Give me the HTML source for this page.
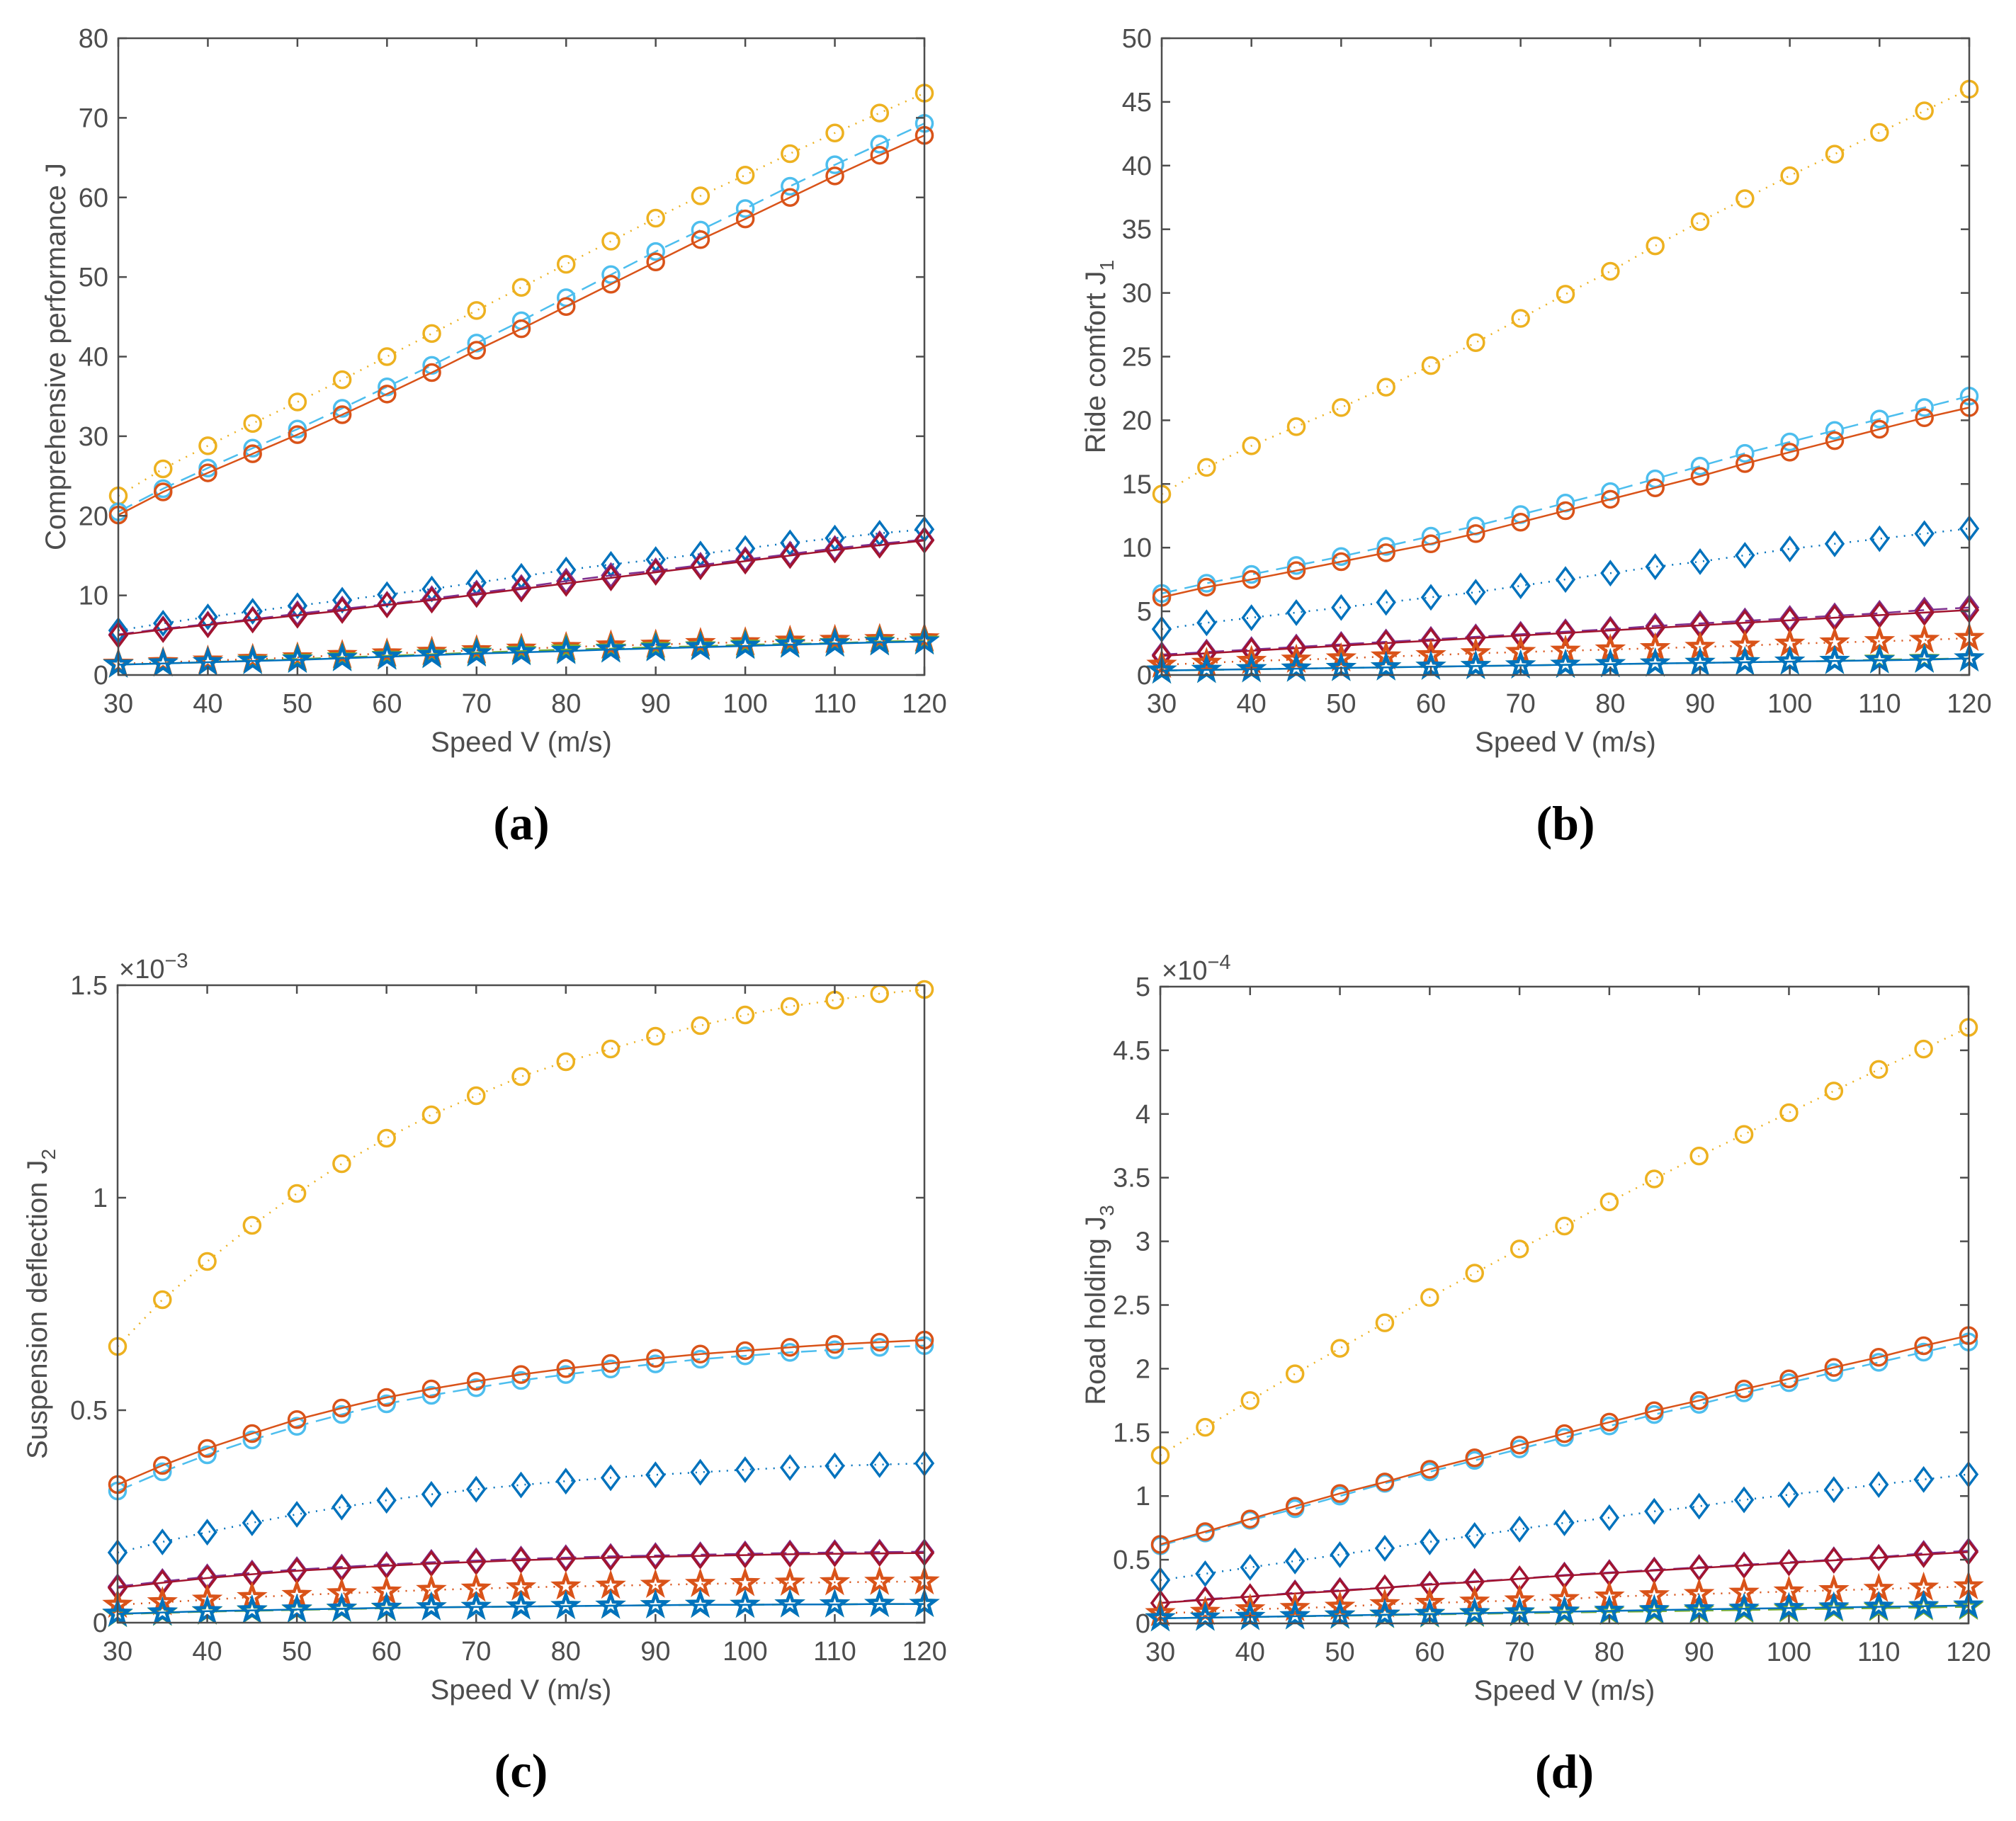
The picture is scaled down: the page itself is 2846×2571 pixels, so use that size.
<!DOCTYPE html>
<html><head><meta charset="utf-8"><style>
html,body{margin:0;padding:0;background:#fff;}
svg{display:block;}
text{font-family:"Liberation Sans",sans-serif;fill:#4d4d4d;}
</style></head><body>
<svg id="fig" xmlns="http://www.w3.org/2000/svg" width="2846" height="2571" viewBox="0 0 2846 2571"></svg>
<script>
const speeds=[30,35,40,45,50,55,60,65,70,75,80,85,90,95,100,105,110,115,120];
const xTicks=[30,40,50,60,70,80,90,100,110,120];
// (a) Comprehensive performance J
const aYellow=[22.5,25.9,28.8,31.6,34.3,37.1,40.0,42.9,45.8,48.7,51.6,54.5,57.4,60.2,62.8,65.5,68.1,70.6,73.1];
const aLightBlue=[20.5,23.4,26.0,28.5,30.9,33.5,36.2,38.9,41.7,44.5,47.4,50.3,53.2,55.9,58.6,61.4,64.1,66.7,69.3];
const aOrange=[20.1,23.0,25.4,27.8,30.2,32.7,35.3,38.0,40.8,43.5,46.3,49.1,51.9,54.7,57.3,60.0,62.7,65.3,67.8];
const aBlueDia=[5.6,6.5,7.3,8.0,8.7,9.4,10.1,10.8,11.6,12.4,13.2,13.9,14.5,15.2,15.9,16.6,17.2,17.8,18.3];
const aPurpleDia=[5.1,5.8,6.4,7.0,7.7,8.3,8.9,9.6,10.3,11.0,11.8,12.5,13.1,13.8,14.5,15.2,15.9,16.5,17.0];
const aRedDia=[5.0,5.7,6.3,6.9,7.5,8.1,8.8,9.4,10.1,10.8,11.5,12.2,12.9,13.6,14.3,15.0,15.7,16.3,16.9];
const aOrangeStar=[1.4,1.6,1.8,2.0,2.2,2.5,2.7,2.9,3.1,3.3,3.5,3.7,3.8,4.0,4.1,4.3,4.4,4.5,4.6];
const aGreenStar=[1.3,1.45,1.6,1.8,2.0,2.2,2.4,2.6,2.8,3.0,3.2,3.3,3.5,3.6,3.8,3.9,4.0,4.2,4.3];
const aBlueStar=[1.3,1.45,1.6,1.75,1.9,2.1,2.3,2.5,2.7,2.85,3.0,3.2,3.35,3.5,3.65,3.8,3.95,4.1,4.2];
const aYTicks=[0,10,20,30,40,50,60,70,80];
// (b) Ride comfort J1
const bYellow=[14.2,16.3,18.0,19.5,21.0,22.6,24.3,26.1,28.0,29.9,31.7,33.7,35.6,37.4,39.2,40.9,42.6,44.3,46.0];
const bLightBlue=[6.4,7.2,7.9,8.6,9.3,10.1,10.9,11.7,12.6,13.5,14.4,15.4,16.4,17.4,18.3,19.2,20.1,21.0,21.9];
const bOrange=[6.1,6.9,7.5,8.2,8.9,9.6,10.3,11.1,12.0,12.9,13.8,14.7,15.6,16.6,17.5,18.4,19.3,20.2,21.0];
const bBlueDia=[3.6,4.1,4.5,4.9,5.3,5.7,6.1,6.5,7.0,7.5,8.0,8.5,8.9,9.4,9.9,10.3,10.7,11.1,11.5];
const bPurpleDia=[1.6,1.8,2.0,2.2,2.4,2.6,2.8,3.0,3.2,3.4,3.6,3.85,4.05,4.25,4.45,4.65,4.85,5.1,5.3];
const bRedDia=[1.5,1.7,1.9,2.1,2.3,2.5,2.7,2.9,3.1,3.3,3.5,3.7,3.9,4.1,4.3,4.5,4.7,4.9,5.1];
const bOrangeStar=[0.8,0.95,1.1,1.2,1.3,1.45,1.55,1.7,1.8,1.9,2.0,2.1,2.2,2.3,2.45,2.55,2.65,2.75,2.9];
const bGreenStar=[0.35,0.4,0.45,0.5,0.55,0.6,0.65,0.7,0.75,0.8,0.85,0.9,0.95,1.0,1.05,1.1,1.2,1.25,1.3];
const bBlueStar=[0.35,0.4,0.45,0.5,0.55,0.6,0.65,0.7,0.75,0.8,0.85,0.9,0.95,1.0,1.05,1.1,1.15,1.2,1.3];
const bYTicks=[0,5,10,15,20,25,30,35,40,45,50];
// (c) Suspension deflection J2 (x1e-3)
const cYellow=[0.65,0.76,0.85,0.935,1.01,1.08,1.14,1.195,1.24,1.285,1.32,1.35,1.38,1.405,1.43,1.45,1.465,1.48,1.49];
const cLightBlue=[0.31,0.355,0.395,0.43,0.462,0.49,0.515,0.535,0.553,0.57,0.584,0.597,0.609,0.62,0.628,0.636,0.642,0.648,0.652];
const cOrange=[0.325,0.37,0.41,0.445,0.478,0.505,0.53,0.55,0.568,0.584,0.598,0.61,0.622,0.632,0.64,0.648,0.655,0.66,0.665];
const cBlueDia=[0.165,0.19,0.213,0.235,0.255,0.272,0.288,0.302,0.314,0.324,0.333,0.341,0.348,0.354,0.36,0.365,0.369,0.372,0.375];
const cPurpleDia=[0.085,0.097,0.108,0.117,0.125,0.131,0.137,0.142,0.146,0.15,0.153,0.156,0.158,0.16,0.162,0.164,0.165,0.166,0.167];
const cRedDia=[0.082,0.094,0.105,0.114,0.122,0.128,0.134,0.139,0.143,0.147,0.15,0.153,0.155,0.157,0.159,0.161,0.162,0.163,0.164];
const cOrangeStar=[0.042,0.048,0.054,0.06,0.065,0.069,0.073,0.077,0.08,0.083,0.085,0.087,0.089,0.091,0.093,0.094,0.095,0.096,0.097];
const cGreenStar=[0.02,0.023,0.026,0.028,0.03,0.032,0.034,0.036,0.037,0.038,0.039,0.04,0.041,0.042,0.042,0.043,0.043,0.044,0.044];
const cBlueStar=[0.021,0.024,0.027,0.029,0.031,0.033,0.035,0.036,0.037,0.038,0.039,0.04,0.041,0.042,0.042,0.043,0.043,0.044,0.044];
const cYTicks=[0,0.5,1,1.5];
const cYTickLabels=["0","0.5","1","1.5"];
// (d) Road holding J3 (x1e-4)
const dYellow=[1.32,1.54,1.75,1.96,2.16,2.36,2.56,2.75,2.94,3.12,3.31,3.49,3.67,3.84,4.01,4.18,4.35,4.51,4.68];
const dLightBlue=[0.61,0.71,0.81,0.90,1.00,1.10,1.19,1.28,1.37,1.46,1.55,1.64,1.72,1.81,1.89,1.97,2.05,2.13,2.21];
const dOrange=[0.62,0.72,0.82,0.92,1.02,1.11,1.21,1.30,1.40,1.49,1.58,1.67,1.75,1.84,1.92,2.01,2.09,2.18,2.26];
const dBlueDia=[0.34,0.39,0.44,0.49,0.54,0.59,0.64,0.69,0.74,0.79,0.83,0.88,0.92,0.97,1.01,1.05,1.09,1.13,1.17];
const dPurpleDia=[0.16,0.19,0.21,0.24,0.26,0.28,0.31,0.33,0.35,0.38,0.40,0.42,0.44,0.46,0.48,0.50,0.52,0.55,0.57];
const dRedDia=[0.16,0.185,0.21,0.235,0.255,0.28,0.305,0.325,0.35,0.375,0.395,0.415,0.435,0.455,0.475,0.495,0.515,0.54,0.56];
const dOrangeStar=[0.08,0.09,0.11,0.12,0.13,0.15,0.16,0.17,0.18,0.19,0.21,0.22,0.23,0.24,0.25,0.26,0.27,0.28,0.29];
const dGreenStar=[0.04,0.045,0.05,0.055,0.06,0.065,0.07,0.075,0.08,0.085,0.09,0.095,0.10,0.105,0.11,0.115,0.12,0.125,0.13];
const dBlueStar=[0.04,0.045,0.05,0.056,0.062,0.068,0.074,0.08,0.086,0.092,0.098,0.104,0.11,0.115,0.12,0.125,0.13,0.135,0.14];
const dYTicks=[0,0.5,1,1.5,2,2.5,3,3.5,4,4.5,5];
const dYTickLabels=["0","0.5","1","1.5","2","2.5","3","3.5","4","4.5","5"];

const NS="http://www.w3.org/2000/svg";
const svg=document.getElementById('fig');
function mk(tag,attrs,parent){const e=document.createElementNS(NS,tag);for(const k in attrs)e.setAttribute(k,attrs[k]);(parent||svg).appendChild(e);return e;}

const C={yellow:'#EDB120',lblue:'#4DBEEE',orange:'#D95319',blue:'#0072BD',purple:'#7E2F8E',red:'#A2142F',green:'#77AC30'};
const DOT='2 9',DASH='22 11';

function star(cx,cy,R){const r=R*0.4;let p=[];for(let i=0;i<10;i++){const a=-Math.PI/2+i*Math.PI/5;const rr=i%2?r:R;p.push((cx+rr*Math.cos(a)).toFixed(1)+','+(cy+rr*Math.sin(a)).toFixed(1));}return p.join(' ');}

function panel(cfg){
  const g=mk('g',{});
  
  
  const L=cfg.x0,R=cfg.x1,T=cfg.y0,B=cfg.y1;
  const sx=v=>L+(v-30)/90*(R-L);
  const sy=v=>B-(v-cfg.ymin)/(cfg.ymax-cfg.ymin)*(B-T);
  const series=[
    {d:cfg.s[0],c:C.yellow,dash:DOT,m:'o',n:'yellow-circle-dotted'},
    {d:cfg.s[1],c:C.lblue,dash:DASH,m:'o',n:'lightblue-circle-dashed'},
    {d:cfg.s[2],c:C.orange,dash:null,m:'o',n:'orange-circle-solid'},
    {d:cfg.s[3],c:C.blue,dash:DOT,m:'d',n:'blue-diamond-dotted'},
    {d:cfg.s[4],c:C.purple,dash:DASH,m:'d',n:'purple-diamond-dashed'},
    {d:cfg.s[5],c:C.red,dash:null,m:'d',n:'red-diamond-solid'},
    {d:cfg.s[6],c:C.orange,dash:DOT,m:'s',n:'orange-star-dotted'},
    {d:cfg.s[7],c:C.green,dash:DASH,m:'s',n:'green-star-dashed'},
    {d:cfg.s[8],c:C.blue,dash:null,m:'s',n:'blue-star-solid'}
  ];
  series.forEach(s=>{
    const sg=mk('g',{},g);
    
    
    const pts=speeds.map((x,i)=>sx(x).toFixed(1)+','+sy(s.d[i]).toFixed(1)).join(' ');
    const pl=mk('polyline',{points:pts,fill:'none',stroke:s.c,'stroke-width':2.5},sg);
    if(s.dash)pl.setAttribute('stroke-dasharray',s.dash);
    
    
    speeds.forEach((x,i)=>{
      const cx=sx(x),cy=sy(s.d[i]);let m;
      if(s.m==='o')m=mk('circle',{cx:cx,cy:cy,r:11.5,fill:'none',stroke:s.c,'stroke-width':3.5},sg);
      else if(s.m==='d')m=mk('polygon',{points:`${cx},${cy-16} ${cx+12},${cy} ${cx},${cy+16} ${cx-12},${cy}`,fill:'none',stroke:s.c,'stroke-width':3.5},sg);
      else m=mk('polygon',{points:star(cx,cy,16),fill:'none',stroke:s.c,'stroke-width':4.5,'stroke-linejoin':'miter'},sg);
      
      
    });
  });
  const ax='#4d4d4d';
  const box=mk('rect',{x:L,y:T,width:R-L,height:B-T,fill:'none',stroke:ax,'stroke-width':2.5},g);
  
  
  xTicks.forEach(v=>{
    const x=sx(v);
    mk('line',{x1:x,y1:B,x2:x,y2:B-12,stroke:ax,'stroke-width':2.5},g);
    mk('line',{x1:x,y1:T,x2:x,y2:T+12,stroke:ax,'stroke-width':2.5},g);
    const t=mk('text',{x:x,y:B+53,'text-anchor':'middle','font-size':38},g);t.textContent=v;
    
    
  });
  cfg.yt.forEach((v,i)=>{
    const y=sy(v);
    mk('line',{x1:L,y1:y,x2:L+12,y2:y,stroke:ax,'stroke-width':2.5},g);
    mk('line',{x1:R,y1:y,x2:R-12,y2:y,stroke:ax,'stroke-width':2.5},g);
    const t=mk('text',{x:L-14,y:y+13,'text-anchor':'end','font-size':38},g);t.textContent=cfg.ytl?cfg.ytl[i]:v;
    
    
  });
  const xl=mk('text',{x:(L+R)/2,y:B+108,'text-anchor':'middle','font-size':40},g);xl.textContent='Speed V (m/s)';
  
  
  const yl=mk('text',{x:0,y:0,'text-anchor':'middle','font-size':40,transform:`translate(${cfg.ylx},${(T+B)/2}) rotate(-90)`},g);
  yl.innerHTML=cfg.ylab;
  
  
  if(cfg.exp){
    const e=mk('text',{x:L+2,y:T-10,'font-size':38},g);
    e.innerHTML='×10<tspan dy="-15" font-size="29">−'+cfg.exp+'</tspan>';
    
    
  }
  const cap=mk('text',{x:(L+R)/2,y:B+232,'text-anchor':'middle','font-size':68,'font-weight':'bold',style:'font-family:"Liberation Serif",serif;fill:#000'},g);
  cap.textContent=cfg.cap;
  
  
}

panel({name:'panel-a',x0:167,x1:1305,y0:54,y1:953,ymin:0,ymax:80,yt:aYTicks,ylx:92,ylab:'Comprehensive performance J',cap:'(a)',
  s:[aYellow,aLightBlue,aOrange,aBlueDia,aPurpleDia,aRedDia,aOrangeStar,aGreenStar,aBlueStar]});
panel({name:'panel-b',x0:1640,x1:2780,y0:54,y1:953,ymin:0,ymax:50,yt:bYTicks,ylx:1560,ylab:'Ride comfort J<tspan dy="12" font-size="28">1</tspan>',cap:'(b)',
  s:[bYellow,bLightBlue,bOrange,bBlueDia,bPurpleDia,bRedDia,bOrangeStar,bGreenStar,bBlueStar]});
panel({name:'panel-c',x0:166,x1:1305,y0:1391,y1:2291,ymin:0,ymax:1.5,yt:cYTicks,ytl:cYTickLabels,ylx:66,exp:3,ylab:'Suspension deflection J<tspan dy="12" font-size="28">2</tspan>',cap:'(c)',
  s:[cYellow,cLightBlue,cOrange,cBlueDia,cPurpleDia,cRedDia,cOrangeStar,cGreenStar,cBlueStar]});
panel({name:'panel-d',x0:1638,x1:2779,y0:1393,y1:2292,ymin:0,ymax:5,yt:dYTicks,ytl:dYTickLabels,ylx:1560,exp:4,ylab:'Road holding J<tspan dy="12" font-size="28">3</tspan>',cap:'(d)',
  s:[dYellow,dLightBlue,dOrange,dBlueDia,dPurpleDia,dRedDia,dOrangeStar,dGreenStar,dBlueStar]});
</script>
</body></html>
